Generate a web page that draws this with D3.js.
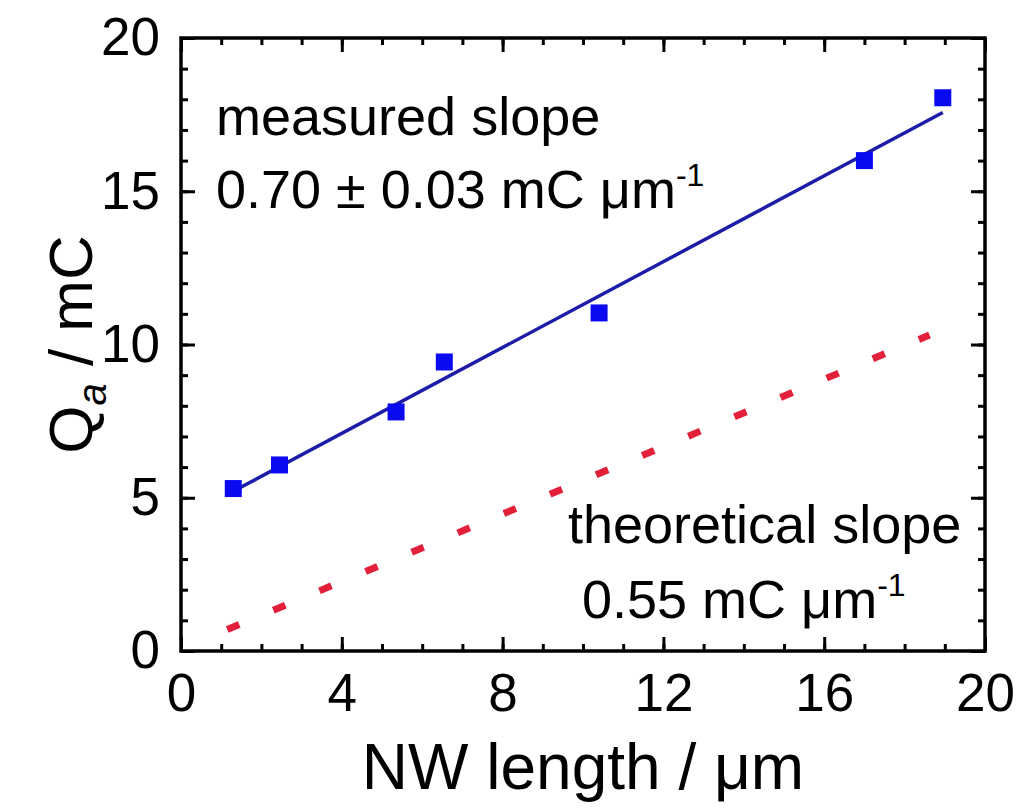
<!DOCTYPE html>
<html>
<head>
<meta charset="utf-8">
<script src="https://cdn.jsdelivr.net/npm/d3@7"></script>
<style>
  html, body { margin: 0; padding: 0; background: #fff; }
  svg { display: block; font-family: "Liberation Sans", Arial, sans-serif; }
</style>
</head>
<body>
<svg id="chart" width="1019" height="809"></svg>
<script>
// ---- data ----
const lengthUm = [1.3, 2.45, 5.35, 6.55, 10.4, 17.0, 18.95];
const chargeMC = [5.3, 6.07, 7.8, 9.43, 11.03, 16.0, 18.05];
const fitX = [1.3, 18.95];
const fitY = [5.21, 17.57];
const theoryX = [1.15, 18.62];
const theoryY = [0.7, 10.31];
const xMajorTicks = [0, 4, 8, 12, 16, 20];
const xMinorTicks = d3.range(0, 21, 1);
const yMajorTicks = [0, 5, 10, 15, 20];
const yMinorTicks = d3.range(0, 21, 1);

// ---- layout ----
const svg = d3.select("#chart");
const L = 181, R = 985, T = 38, B = 651;
const x = d3.scaleLinear().domain([0, 20]).range([L, R]);
const y = d3.scaleLinear().domain([0, 20]).range([B, T]);
const font = "'Liberation Sans', Arial, sans-serif";

function styleAxis(g) {
  g.select(".domain").remove();
  g.selectAll(".tick line").attr("stroke", "#000").attr("stroke-width", 3);
  g.selectAll(".tick text").attr("fill", "#000").style("font-size", "53px").style("font-family", font);
}

// minor ticks (all sides)
svg.append("g").attr("transform", `translate(0,${B})`)
  .call(d3.axisBottom(x).tickValues(xMinorTicks).tickSize(-7).tickFormat("")).call(styleAxis);
svg.append("g").attr("transform", `translate(0,${T})`)
  .call(d3.axisTop(x).tickValues(xMinorTicks).tickSize(-7).tickFormat("")).call(styleAxis);
svg.append("g").attr("transform", `translate(${L},0)`)
  .call(d3.axisLeft(y).tickValues(yMinorTicks).tickSize(-7).tickFormat("")).call(styleAxis);
svg.append("g").attr("transform", `translate(${R},0)`)
  .call(d3.axisRight(y).tickValues(yMinorTicks).tickSize(-7).tickFormat("")).call(styleAxis);

// major ticks + labels
svg.append("g").attr("transform", `translate(0,${B})`)
  .call(d3.axisBottom(x).tickValues(xMajorTicks).tickSize(-14).tickPadding(22).tickFormat(d3.format("d"))).call(styleAxis);
svg.append("g").attr("transform", `translate(0,${T})`)
  .call(d3.axisTop(x).tickValues(xMajorTicks).tickSize(-14).tickFormat("")).call(styleAxis);
svg.append("g").attr("transform", `translate(${L},0)`)
  .call(d3.axisLeft(y).tickValues(yMajorTicks).tickSize(-14).tickPadding(21).tickFormat(d3.format("d"))).call(styleAxis);
svg.append("g").attr("transform", `translate(${R},0)`)
  .call(d3.axisRight(y).tickValues(yMajorTicks).tickSize(-14).tickFormat("")).call(styleAxis);

// frame
svg.append("rect").attr("x", L).attr("y", T).attr("width", R - L).attr("height", B - T)
  .attr("fill", "none").attr("stroke", "#000").attr("stroke-width", 3.5);

// theoretical dashed line
const line = d3.line().x(d => x(d[0])).y(d => y(d[1]));
svg.append("path")
  .datum(d3.zip(theoryX, theoryY))
  .attr("d", line)
  .attr("fill", "none")
  .attr("stroke", "#e3203a")
  .attr("stroke-width", 7)
  .attr("stroke-dasharray", "13,37");

// fit line
svg.append("path")
  .datum(d3.zip(fitX, fitY))
  .attr("d", line)
  .attr("fill", "none")
  .attr("stroke", "#1c1ca8")
  .attr("stroke-width", 3.5);

// data squares
const s = 17;
svg.append("g").selectAll("rect")
  .data(d3.zip(lengthUm, chargeMC))
  .join("rect")
  .attr("x", d => x(d[0]) - s / 2)
  .attr("y", d => y(d[1]) - s / 2)
  .attr("width", s).attr("height", s)
  .attr("fill", "#0a0af0");

// annotations
const ann = svg.append("g").style("font-size", "54px").style("font-family", font).attr("fill", "#000");
ann.append("text").attr("x", 216).attr("y", 135).text("measured slope");
const t2 = ann.append("text").attr("x", 216).attr("y", 208);
t2.append("tspan").text("0.70 ± 0.03 mC μm");
t2.append("tspan").attr("dy", -22).style("font-size", "32px").text("-1");

ann.append("text").attr("x", 568).attr("y", 543).text("theoretical slope");
const t4 = ann.append("text").attr("x", 582).attr("y", 618);
t4.append("tspan").text("0.55 mC μm");
t4.append("tspan").attr("dy", -22).style("font-size", "32px").text("-1");

// axis titles
svg.append("text")
  .attr("x", x(10)).attr("y", 789)
  .attr("text-anchor", "middle")
  .style("font-size", "64px").style("font-family", font)
  .text("NW length / μm");

const yt = svg.append("text")
  .attr("transform", `translate(92,${y(10)}) rotate(-90)`)
  .attr("text-anchor", "middle")
  .style("font-size", "62px").style("font-family", font);
yt.append("tspan").text("Q");
yt.append("tspan").attr("dy", 14).style("font-size", "40px").style("font-style", "italic").text("a");
yt.append("tspan").attr("dy", -14).text(" / mC");
</script>
</body>
</html>
